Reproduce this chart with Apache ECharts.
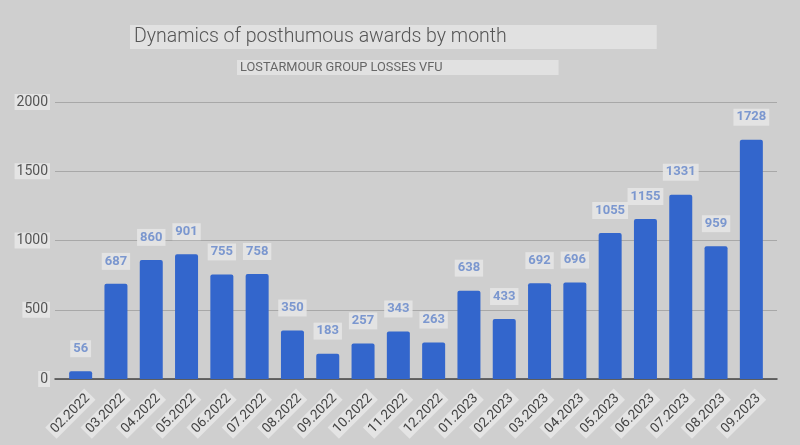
<!DOCTYPE html>
<html><head><meta charset="utf-8">
<script src="https://cdn.jsdelivr.net/npm/echarts@6/dist/echarts.min.js"></script>
<style>html,body{margin:0;padding:0;background:#cfcfcf}#c{width:800px;height:445px}</style>
</head><body><div id="c"></div>
<script>
const categories = ['02.2022','03.2022','04.2022','05.2022','06.2022','07.2022','08.2022','09.2022','10.2022','11.2022','12.2022','01.2023','02.2023','03.2023','04.2023','05.2023','06.2023','07.2023','08.2023','09.2023'];
const awards = [56,687,860,901,755,758,350,183,257,343,263,638,433,692,696,1055,1155,1331,959,1728];
const yTicks = [0,500,1000,1500,2000];

const chart = echarts.init(document.getElementById('c'));
chart.setOption({
  backgroundColor: '#cfcfcf',
  animation: false,
  title: [
    {text: 'Dynamics of posthumous awards by month', left: 130, top: 25,
     padding: [1, 150, 1, 4], backgroundColor: 'rgba(226,226,226,0.9)',
     textStyle: {fontFamily: 'Roboto', fontWeight: 300, fontSize: 19.5, lineHeight: 22, color: '#555'}},
    {text: 'LOSTARMOUR GROUP LOSSES VFU', left: 237, top: 60,
     padding: [0, 116, 0, 3], backgroundColor: 'rgba(226,226,226,0.9)',
     textStyle: {fontFamily: 'Roboto', fontWeight: 'normal', fontSize: 12.8, lineHeight: 15, color: '#666'}}
  ],
  grid: [
    {left: 63, right: 31, top: 102, bottom: 66},
    {left: 55, right: 23, top: 102, bottom: 66}
  ],
  xAxis: [
    {type: 'category', gridIndex: 0, data: categories,
     axisLine: {show: false}, axisTick: {show: false},
     axisLabel: {rotate: 45, margin: 6, interval: 0, padding: [26, 0, 0, 0],
       formatter: v => '{a|' + v + '}',
       rich: {a: {fontFamily: 'Roboto', fontSize: 13.5, color: '#444',
         backgroundColor: 'rgba(232,232,232,0.85)', padding: [1, 3]}}}},
    {type: 'value', gridIndex: 1, min: 0, max: 1, show: true,
     axisLine: {show: true, onZero: true, lineStyle: {color: '#444', width: 1.5}},
     axisTick: {show: false}, axisLabel: {show: false}, splitLine: {show: false}}
  ],
  yAxis: [
    {type: 'value', gridIndex: 0, min: 0, max: 2000, interval: 500, show: false},
    {type: 'value', gridIndex: 1, min: yTicks[0], max: yTicks[yTicks.length-1], interval: 500,
     axisLine: {show: false}, axisTick: {show: false},
     splitLine: {lineStyle: {color: '#a8a8a8', width: 1}},
     axisLabel: {margin: 5, fontFamily: 'Roboto', fontSize: 14, color: '#555',
       formatter: v => String(v),
       backgroundColor: 'rgba(232,232,232,0.85)', padding: [1, 2]}}
  ],
  series: [{
    type: 'bar', xAxisIndex: 0, yAxisIndex: 0, data: awards,
    barWidth: 23,
    itemStyle: {color: '#3366cc', borderRadius: [2, 2, 0, 0]},
    label: {show: true, position: 'top', distance: 14,
      fontFamily: 'Roboto', fontWeight: 'bold', fontSize: 13, color: '#7b97cf',
      backgroundColor: 'rgba(228,228,228,0.9)', padding: [2, 3]}
  }]
});
</script></body></html>
